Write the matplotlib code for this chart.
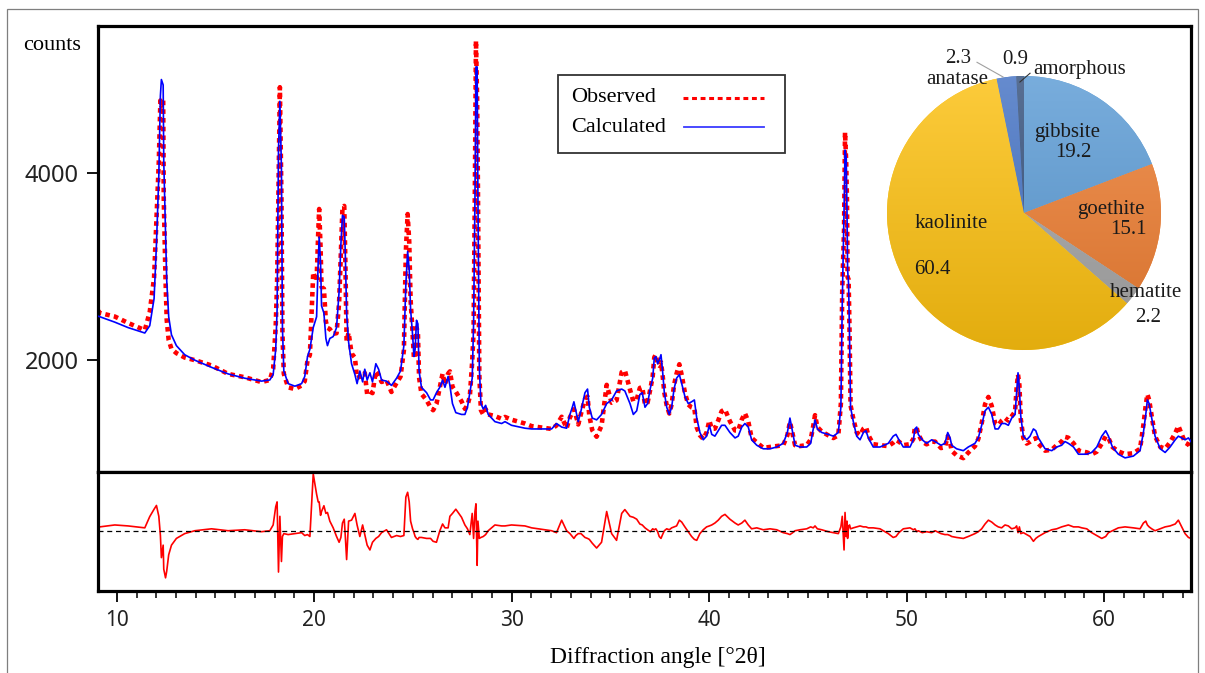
import numpy as np
import matplotlib
matplotlib.use("Agg")
import matplotlib.pyplot as plt
from matplotlib.lines import Line2D
from matplotlib.patches import Rectangle
from matplotlib.ticker import MultipleLocator
from matplotlib.colors import to_rgb

# Rietveld fit: diffraction angle, calculated profile, observed - calculated
two_theta = [
    9.05, 9.14, 9.90, 10.57, 11.42, 11.67, 11.89, 12.01, 12.13, 12.21,
    12.26, 12.35, 12.38, 12.47, 12.53, 12.63, 12.77, 13.02, 13.44, 13.95,
    14.80, 15.64, 16.48, 17.33, 17.75, 17.92, 18.05, 18.12, 18.19, 18.26,
    18.34, 18.39, 18.46, 18.68, 19.02, 19.36, 19.52, 19.66, 19.78, 19.95,
    20.12, 20.20, 20.25, 20.32, 20.37, 20.49, 20.59, 20.67, 20.79, 20.96,
    21.13, 21.26, 21.35, 21.43, 21.52, 21.58, 21.64, 21.74, 21.89, 22.06,
    22.17, 22.31, 22.45, 22.56, 22.68, 22.82, 22.95, 23.12, 23.26, 23.41,
    23.66, 23.91, 24.17, 24.37, 24.54, 24.64, 24.73, 24.81, 24.88, 24.98,
    25.05, 25.11, 25.18, 25.25, 25.31, 25.43, 25.69, 25.89, 26.02, 26.19,
    26.36, 26.50, 26.62, 26.78, 26.87, 27.00, 27.17, 27.46, 27.63, 27.76,
    27.88, 28.00, 28.07, 28.14, 28.19, 28.25, 28.29, 28.36, 28.44, 28.56,
    28.68, 28.81, 29.15, 29.49, 29.66, 29.99, 30.67, 31.01, 32.02, 32.27,
    32.53, 32.78, 32.95, 33.07, 33.15, 33.25, 33.37, 33.51, 33.71, 33.84,
    33.93, 34.08, 34.30, 34.55, 34.81, 35.06, 35.31, 35.57, 35.73, 35.99,
    36.16, 36.33, 36.49, 36.61, 36.75, 36.88, 37.02, 37.14, 37.22, 37.30,
    37.39, 37.47, 37.56, 37.64, 37.73, 37.85, 37.98, 38.10, 38.22, 38.35,
    38.49, 38.61, 38.77, 38.94, 39.11, 39.25, 39.37, 39.53, 39.70, 39.87,
    40.01, 40.13, 40.29, 40.46, 40.63, 40.80, 41.05, 41.31, 41.47, 41.65,
    41.81, 41.98, 42.15, 42.41, 42.74, 43.08, 43.42, 43.75, 43.96, 44.09,
    44.23, 44.35, 44.60, 44.94, 45.14, 45.27, 45.36, 45.48, 45.70, 46.03,
    46.29, 46.54, 46.67, 46.74, 46.83, 46.88, 46.94, 46.98, 47.01, 47.06,
    47.11, 47.16, 47.30, 47.47, 47.64, 47.81, 47.94, 48.06, 48.31, 48.65,
    49.07, 49.32, 49.46, 49.61, 49.83, 50.17, 50.34, 50.42, 50.51, 50.59,
    50.79, 51.01, 51.27, 51.44, 51.74, 51.94, 52.08, 52.20, 52.28, 52.53,
    52.87, 53.12, 53.46, 53.63, 53.80, 53.97, 54.14, 54.31, 54.48, 54.64,
    54.81, 54.98, 55.15, 55.32, 55.49, 55.57, 55.64, 55.71, 55.78, 55.91,
    56.08, 56.25, 56.42, 56.54, 56.67, 57.01, 57.35, 57.60, 57.85, 58.02,
    58.19, 58.45, 58.70, 58.87, 59.12, 59.37, 59.63, 59.88, 60.08, 60.22,
    60.42, 60.72, 61.06, 61.48, 61.82, 61.99, 62.11, 62.19, 62.28, 62.41,
    62.58, 62.84, 63.09, 63.34, 63.60, 63.76, 63.93, 64.10, 64.27, 64.40,
]

calculated = [
    2470, 2464, 2406, 2348, 2290, 2368, 2658, 3238, 3973, 4824,
    4998, 4940, 4128, 3354, 2851, 2464, 2271, 2155, 2058, 2000,
    1923, 1853, 1807, 1776, 1788, 1846, 2116, 2542, 4244, 4766,
    4050, 2348, 1884, 1749, 1722, 1749, 1826, 2039, 2116, 2348,
    2464, 3045, 3315, 3045, 2580, 2503, 2232, 2155, 2232, 2252,
    2348, 2735, 3238, 3547, 3528, 3083, 2503, 2194, 1962, 1846,
    1749, 1884, 1768, 1903, 1787, 1865, 1768, 1962, 1903, 1787,
    1776, 1730, 1807, 1884, 2155, 2813, 3161, 2967, 2542, 2271,
    2039, 2116, 2426, 2387, 1884, 1710, 1652, 1575, 1575, 1652,
    1710, 1787, 1710, 1826, 1730, 1536, 1439, 1420, 1420, 1497,
    1652, 1807, 2387, 3741, 5133, 5133, 3721, 1923, 1536, 1478,
    1517, 1420, 1343, 1323, 1343, 1304, 1273, 1265, 1265, 1323,
    1285, 1273, 1420, 1497, 1555, 1459, 1343, 1459, 1652, 1691,
    1497, 1381, 1362, 1420, 1536, 1575, 1671, 1691, 1671, 1536,
    1420, 1459, 1633, 1652, 1497, 1536, 1700, 1807, 2020, 2039,
    1962, 2000, 2058, 1884, 1652, 1497, 1420, 1497, 1691, 1807,
    1846, 1749, 1613, 1536, 1555, 1575, 1381, 1227, 1149, 1188,
    1304, 1207, 1188, 1246, 1304, 1304, 1227, 1169, 1188, 1285,
    1323, 1285, 1149, 1091, 1053, 1053, 1072, 1111, 1227, 1381,
    1227, 1091, 1072, 1072, 1111, 1265, 1362, 1265, 1227, 1207,
    1188, 1227, 1497, 2619, 3586, 4244, 4166, 3586, 2967, 2813,
    2232, 1497, 1343, 1188, 1149, 1227, 1246, 1169, 1072, 1072,
    1111, 1188, 1207, 1149, 1072, 1072, 1149, 1265, 1285, 1207,
    1149, 1111, 1149, 1130, 1091, 1111, 1227, 1169, 1091, 1053,
    1033, 1072, 1111, 1169, 1304, 1459, 1497, 1420, 1265, 1265,
    1323, 1323, 1304, 1381, 1420, 1652, 1865, 1691, 1400, 1188,
    1149, 1188, 1265, 1246, 1169, 1053, 1033, 1072, 1091, 1130,
    1111, 1072, 995, 995, 995, 1014, 1072, 1188, 1246, 1188,
    1072, 995, 956, 975, 1033, 1227, 1420, 1575, 1536, 1381,
    1188, 1053, 1014, 1072, 1149, 1188, 1169, 1149, 1169, 1130,
]

difference = [
    60, 40, 60, 50, 30, 147, 224, 263, 150, -50,
    -280, -150, -400, -490, -420, -250, -150, -80, -30, 0,
    20, 0, 10, -10, 0, 60, 250, 300, -430, 150,
    -320, -60, -30, -40, -30, -20, -50, -40, -60, 590,
    380, 300, 300, 160, 200, 260, 180, 190, 100, 30,
    -60, -120, -70, 80, 120, -80, -300, 100, 110, 180,
    60, -60, 60, -40, -150, -200, -120, -80, -60, -20,
    10, -70, -50, -60, -50, 350, 400, 300, 100, 20,
    -20, -60, -80, -90, -70, -70, -80, -80, -110, -120,
    0, 70, 30, 30, 150, 180, 224, 140, 60, 20,
    -40, 180, -80, 200, 280, -360, 100, -80, -70, -60,
    -40, 0, 60, 50, 50, 60, 50, 30, 0, -20,
    110, 0, -30, -60, -80, -50, -30, -30, -70, -80,
    -90, -130, -180, -120, 200, -30, -100, 180, 220, 150,
    140, 120, 70, 60, 30, 10, -10, 20, 10, 20,
    -10, -60, -80, -40, 0, 20, 10, 30, 40, 50,
    110, 90, 40, -10, -60, -90, -100, -30, 10, 40,
    50, 60, 80, 110, 150, 170, 120, 80, 60, 80,
    110, 60, 20, 30, 10, 20, 10, -20, -30, -40,
    -20, 0, 10, 20, 40, 30, 50, 20, 10, -10,
    -20, -30, 40, 150, -200, 190, -60, 100, -80, 50,
    60, 20, 30, 40, 50, 40, 40, 30, 30, 20,
    -30, -70, -60, -20, 20, 30, 10, 20, -10, 0,
    -20, -10, -20, 0, -30, -40, -40, -50, -60, -70,
    -80, -60, -30, -10, 20, 70, 110, 90, 60, 40,
    30, 60, 50, 20, 30, 50, -20, 40, -30, -20,
    -40, -60, -110, -80, -60, -20, 10, 20, 40, 50,
    60, 40, 40, 30, 20, -20, -50, -80, -60, -20,
    0, 30, 40, 30, 20, 80, 100, 60, 40, 20,
    0, 20, 40, 50, 70, 110, 40, -30, -70, -80,
]

# phase composition (wt%)
phases = ["gibbsite", "goethite", "hematite", "kaolinite", "anatase", "amorphous"]
fractions = [19.2, 15.1, 2.2, 60.4, 2.3, 0.9]
phase_colors = ["#5b9bd5", "#ed7d31", "#a5a5a5", "#fcc010", "#4472c4", "#34507c"]

observed = np.array(calculated) + np.array(difference)

SERIF = "Liberation Serif"
SANS = "Noto Sans"
plt.rcParams["font.family"] = SERIF

W, H = 1205, 673
fig = plt.figure(figsize=(W / 100, H / 100), dpi=100)


def px_box(left, top, right, bottom):
    return [left / W, 1 - bottom / H, (right - left) / W, (bottom - top) / H]


def fx(px):
    return px / W


def fy(py):
    return 1 - py / H


# thin outer frame
fig.add_artist(Rectangle((fx(7), -0.01), (1198 - 7) / W, fy(9) + 0.01,
                         transform=fig.transFigure, fill=False,
                         edgecolor="#7f7f7f", lw=0.9))

ax = fig.add_axes(px_box(98, 26, 1191, 472))
axr = fig.add_axes(px_box(98, 472, 1191, 591), sharex=ax)

ax.plot(two_theta, observed, color="red", lw=3.3, ls=(0, (1, 0.9)),
        dash_capstyle="butt", zorder=2)
ax.plot(two_theta, calculated, color="blue", lw=1.2, zorder=3)
ax.set_xlim(9.05, 64.4)
ax.set_ylim(805, 5570)
ax.set_yticks([2000, 4000])
ax.tick_params(axis="x", bottom=False, labelbottom=False)
ax.tick_params(axis="y", direction="out", length=8, width=1.3, pad=6,
               labelsize=17, labelfontfamily=SANS, labelcolor="#222222")

axr.plot(two_theta, difference, color="red", lw=1.2)
axr.axhline(0, color="black", lw=0.9, ls=(0, (4, 3)))
axr.set_ylim(-627, 611)
axr.set_yticks([])
axr.set_xticks([10, 20, 30, 40, 50, 60])
axr.xaxis.set_minor_locator(MultipleLocator(1))
axr.tick_params(axis="x", which="major", direction="out", length=8, width=1.3,
                labelsize=15, labelfontfamily=SANS, labelcolor="#222222", pad=6)
axr.tick_params(axis="x", which="minor", direction="out", length=5, width=1.1)

for a in (ax, axr):
    for s in a.spines.values():
        s.set_linewidth(2.3)

# legend box: labels on the left, line samples on the right
fig.add_artist(Rectangle((fx(558), fy(153)), (785 - 558) / W, (153 - 75) / H,
                         transform=fig.transFigure, facecolor="white",
                         edgecolor="#333333", lw=1.3, zorder=6))
fig.text(fx(571), fy(98), "Observed", fontsize=16, va="center", ha="left", zorder=7)
fig.text(fx(571), fy(127), "Calculated", fontsize=16, va="center", ha="left", zorder=7)
fig.add_artist(Line2D([fx(683), fx(764)], [fy(98), fy(98)], color="red", lw=2.2,
                      ls=(0, (1.6, 1.2)), dash_capstyle="butt",
                      transform=fig.transFigure, zorder=7))
fig.add_artist(Line2D([fx(684), fx(764)], [fy(127), fy(127)], color="#3a3aff",
                      lw=1.3, transform=fig.transFigure, zorder=7))

fig.text(fx(23), fy(45), "counts", fontsize=16, va="center", ha="left")
fig.text(fx(658), fy(657), "Diffraction angle [°2θ]", fontsize=17,
         va="center", ha="center")

# composition pie
axp = fig.add_axes(px_box(887, 76, 1161, 350))
wedges, _ = axp.pie(fractions, colors=phase_colors, startangle=90,
                    counterclock=False, radius=1,
                    wedgeprops=dict(linewidth=0))
axp.set_xlim(-1, 1)
axp.set_ylim(-1, 1)
axp.set_aspect("equal")
axp.axis("off")

# soft top-to-bottom shading on each wedge
yy = np.linspace(1, 0, 256)[:, None, None]
for w, c in zip(wedges, phase_colors):
    rgb = np.array(to_rgb(c))
    light = rgb + (1 - rgb) * 0.18
    dark = rgb * 0.9
    grad = dark + (light - dark) * yy
    grad = np.repeat(grad, 2, axis=1)
    im = axp.imshow(grad, extent=(-1, 1, -1, 1), origin="upper", zorder=2,
                    interpolation="bilinear")
    im.set_clip_path(w)

lab = dict(fontsize=15, color="#1a1a1a", ha="center", va="center", zorder=5)
axp.text(0.314, 0.59, "gibbsite", **lab)
axp.text(0.358, 0.438, "19.2", **lab)
axp.text(0.635, 0.022, "goethite", **lab)
axp.text(0.76, -0.124, "15.1", **lab)
axp.text(0.89, -0.577, "hematite", **lab)
axp.text(0.905, -0.766, "2.2", **lab)
axp.text(-0.533, -0.073, "kaolinite", **lab)
axp.text(-0.672, -0.416, "60.4", **lab)
axp.text(-0.489, 0.971, "anatase", **lab)
axp.text(-0.482, 1.13, "2.3", **lab)
axp.text(-0.066, 1.117, "0.9", **lab)
axp.text(0.409, 1.044, "amorphous", **lab)
axp.plot([-0.343, -0.153], [1.10, 0.993], color="#a0a0a0", lw=0.8,
         clip_on=False, zorder=4)
axp.plot([-0.03, 0.044], [0.956, 1.02], color="#333333", lw=0.8,
         clip_on=False, zorder=4)

fig.savefig("out.png", dpi=100)
